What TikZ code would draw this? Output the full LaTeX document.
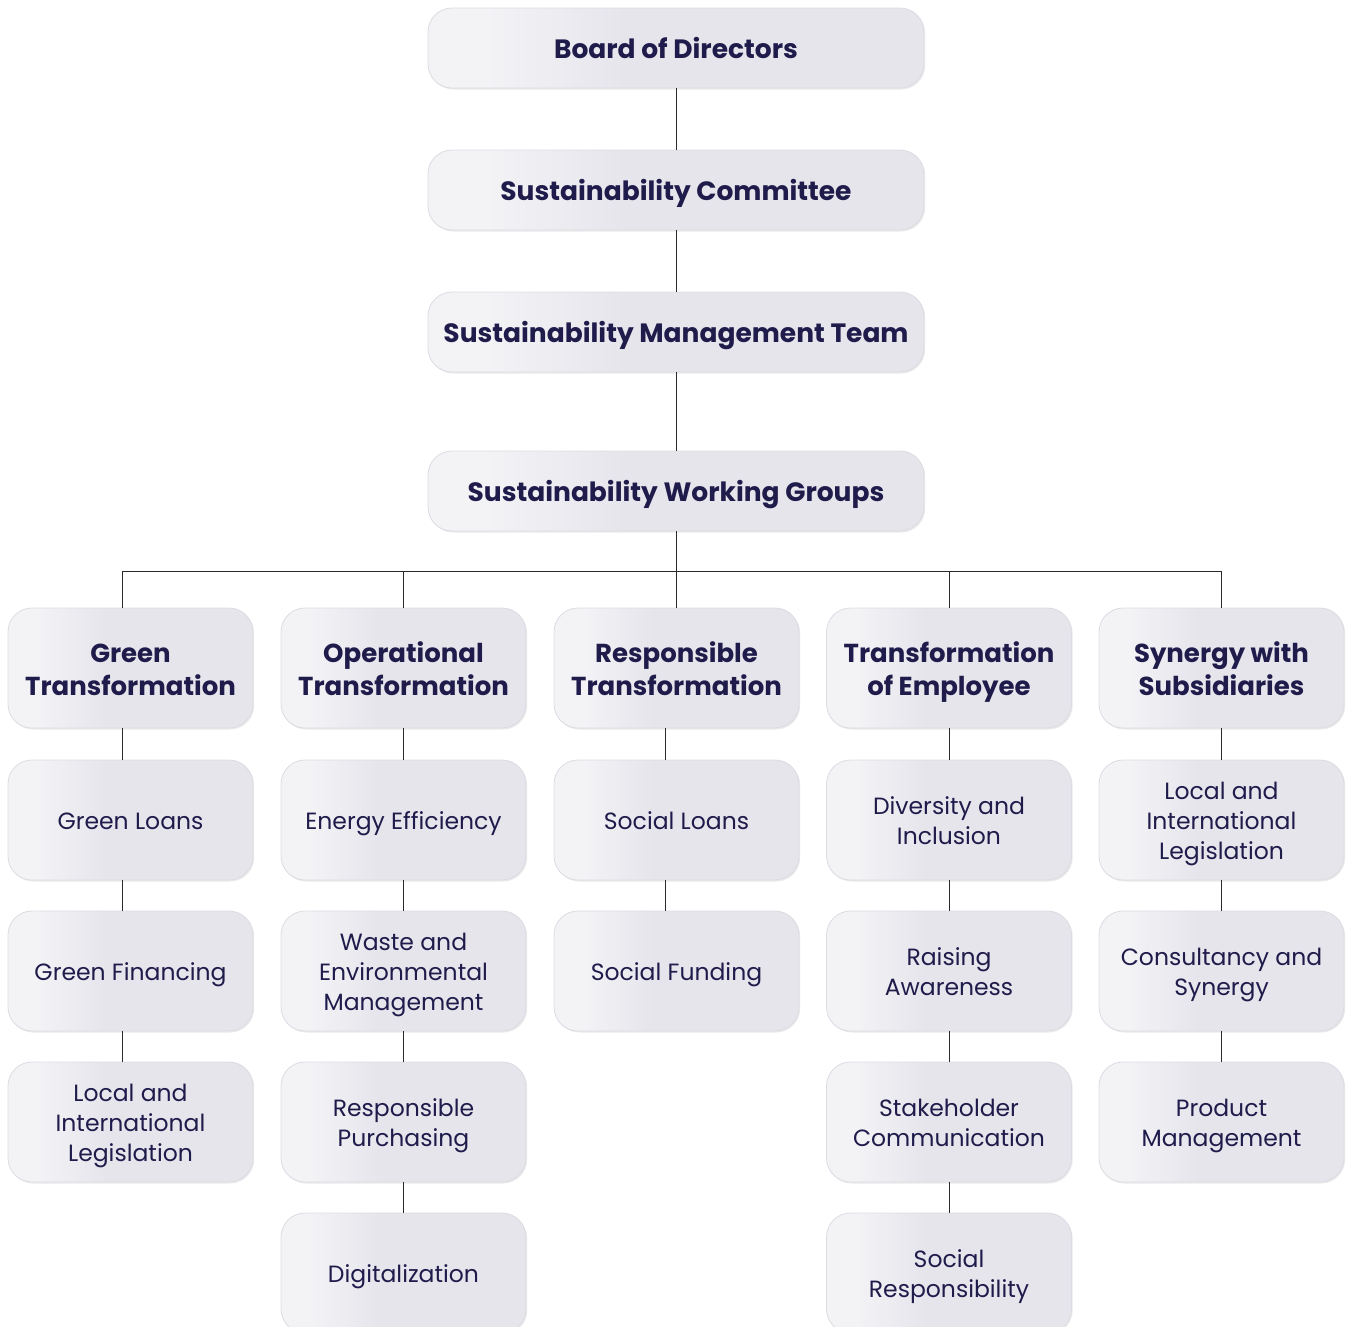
\documentclass[tikz,border=0pt]{standalone}
\usepackage{fontspec}
\setmainfont{Poppins}
\usetikzlibrary{shadows}
\definecolor{txt}{HTML}{1F1B4B}
\definecolor{gL}{HTML}{F3F3F6}
\definecolor{gR}{HTML}{E6E5EC}
\definecolor{edge}{HTML}{DCDBE3}
\definecolor{lnc}{HTML}{2A2A2A}
\pgfdeclarehorizontalshading{boxshade}{100bp}{color(0bp)=(gL); color(25bp)=(gL); color(31bp)=(gL); color(45bp)=(gR); color(100bp)=(gR)}
% \lead: height strut for the first line; the outer rule fixes the depth
\newcommand{\lead}{}
\tikzset{
  base/.style={rounded corners=24pt, shading=boxshade, draw=edge, line width=0.8pt,
    drop shadow={shadow xshift=1.2pt, shadow yshift=-1.5pt, opacity=0.18, fill=black!45},
    text=txt, align=center, inner sep=0pt},
  topbox/.style={base, minimum width=496pt, minimum height=80pt,
    execute at begin node={\def\lead{\rule{0pt}{30.4pt}}\rule[-10pt]{0pt}{40.4pt}},
    font=\fontsize{26.5}{30}\selectfont\bfseries},
  headbox/.style={base, minimum width=245pt, minimum height=120pt,
    execute at begin node={\def\lead{\rule{0pt}{31pt}}\rule[-10pt]{0pt}{41pt}},
    font=\fontsize{26}{33}\selectfont\bfseries},
  subbox/.style={base, minimum width=245pt, minimum height=120pt,
    execute at begin node={\def\lead{\rule{0pt}{29pt}}\rule[-10pt]{0pt}{39pt}},
    font=\fontsize{23.5}{30}\selectfont},
  conn/.style={draw=lnc, line width=1pt}
}
\begin{document}
\begin{tikzpicture}[x=1pt,y=-1pt]
\useasboundingbox (0,0) rectangle (1351,1326);
\clip (0,0) rectangle (1351,1326);
% column line positions
\coordinate (x1) at (122,0);
\coordinate (x2) at (403,0);
\coordinate (x3) at (665,0);
\coordinate (x4) at (949,0);
\coordinate (x5) at (1221,0);
\coordinate (busL) at (122,571);
\coordinate (busR) at (1221,571);

% top chain
\node[topbox] (bod) at (676,48) {\lead Board of Directors};
\node[topbox] (sc) at (676,190) {\lead Sustainability Committee};
\node[topbox] (smt) at (676,332) {\lead Sustainability Management Team};
\node[topbox] (swg) at (676,491) {\lead Sustainability Working Groups};

% headers
\node[headbox] (h1) at (130.5,668) {\lead Green\\Transformation};
\node[headbox] (h2) at (403.5,668) {\lead Operational\\Transformation};
\node[headbox] (h3) at (676.5,668) {\lead Responsible\\Transformation};
\node[headbox] (h4) at (949,668) {\lead Transformation\\of Employee};
\node[headbox] (h5) at (1221.5,668) {\lead Synergy with\\Subsidiaries};

% column 1
\node[subbox] (a1) at (130.5,820) {\lead Green Loans};
\node[subbox] (a2) at (130.5,971) {\lead Green Financing};
\node[subbox] (a3) at (130.5,1122) {\lead Local and\\International\\Legislation};
% column 2
\node[subbox] (b1) at (403.5,820) {\lead Energy Efficiency};
\node[subbox] (b2) at (403.5,971) {\lead Waste and\\Environmental\\Management};
\node[subbox] (b3) at (403.5,1122) {\lead Responsible\\Purchasing};
\node[subbox] (b4) at (403.5,1273) {\lead Digitalization};
% column 3
\node[subbox] (c1) at (676.5,820) {\lead Social Loans};
\node[subbox] (c2) at (676.5,971) {\lead Social Funding};
% column 4
\node[subbox] (d1) at (949,820) {\lead Diversity and\\Inclusion};
\node[subbox] (d2) at (949,971) {\lead Raising\\Awareness};
\node[subbox] (d3) at (949,1122) {\lead Stakeholder\\Communication};
\node[subbox] (d4) at (949,1273) {\lead Social\\Responsibility};
% column 5
\node[subbox] (e1) at (1221.5,820) {\lead Local and\\International\\Legislation};
\node[subbox] (e2) at (1221.5,971) {\lead Consultancy and\\Synergy};
\node[subbox] (e3) at (1221.5,1122) {\lead Product\\Management};

% connectors
\draw[conn] (bod.south) -- (sc.north);
\draw[conn] (sc.south) -- (smt.north);
\draw[conn] (smt.south) -- (swg.north);
\draw[conn] (swg.south) -- (swg.south |- h3.north);
\draw[conn] (busL) -- (busR);
\draw[conn] (busL) -- (busL |- h1.north);
\draw[conn] (x2 |- busL) -- (x2 |- h2.north);
\draw[conn] (x4 |- busL) -- (x4 |- h4.north);
\draw[conn] (busR) -- (busR |- h5.north);

\draw[conn] (x1 |- h1.south) -- (x1 |- a1.north);
\draw[conn] (x1 |- a1.south) -- (x1 |- a2.north);
\draw[conn] (x1 |- a2.south) -- (x1 |- a3.north);

\draw[conn] (x2 |- h2.south) -- (x2 |- b1.north);
\draw[conn] (x2 |- b1.south) -- (x2 |- b2.north);
\draw[conn] (x2 |- b2.south) -- (x2 |- b3.north);
\draw[conn] (x2 |- b3.south) -- (x2 |- b4.north);

\draw[conn] (x3 |- h3.south) -- (x3 |- c1.north);
\draw[conn] (x3 |- c1.south) -- (x3 |- c2.north);

\draw[conn] (x4 |- h4.south) -- (x4 |- d1.north);
\draw[conn] (x4 |- d1.south) -- (x4 |- d2.north);
\draw[conn] (x4 |- d2.south) -- (x4 |- d3.north);
\draw[conn] (x4 |- d3.south) -- (x4 |- d4.north);

\draw[conn] (x5 |- h5.south) -- (x5 |- e1.north);
\draw[conn] (x5 |- e1.south) -- (x5 |- e2.north);
\draw[conn] (x5 |- e2.south) -- (x5 |- e3.north);
\end{tikzpicture}
\end{document}
